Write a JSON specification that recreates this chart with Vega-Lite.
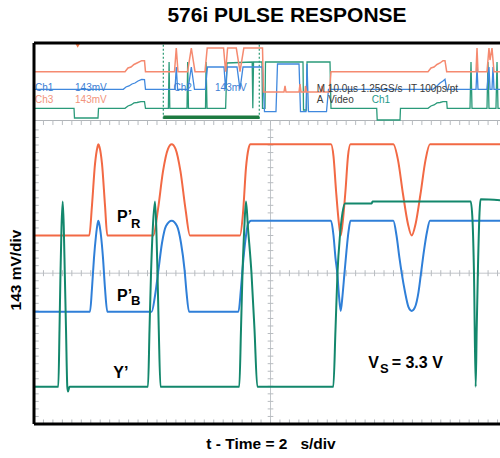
{
  "$schema": "https://vega.github.io/schema/vega-lite/v6.json",
  "width": 466,
  "height": 381,
  "autosize": "none",
  "padding": {"left": 34, "top": 43, "right": 0, "bottom": 34},
  "background": "white",
  "config": {"view": {"stroke": null}, "font": "Liberation Sans"},
  "title": {"text": "576i PULSE RESPONSE", "font": "Liberation Sans", "fontSize": 21, "fontWeight": "bold", "color": "#000000", "anchor": "middle", "frame": "group", "dx": 20, "offset": -1, "baseline": "alphabetic"},
  "datasets": {
    "tx": [{"t":0.2},{"t":0.4},{"t":0.6},{"t":0.8},{"t":1},{"t":1.2},{"t":1.4},{"t":1.6},{"t":1.8},{"t":2},{"t":2.2},{"t":2.4},{"t":2.6},{"t":2.8},{"t":3},{"t":3.2},{"t":3.4},{"t":3.6},{"t":3.8},{"t":4},{"t":4.2},{"t":4.4},{"t":4.6},{"t":4.8},{"t":5},{"t":5.2},{"t":5.4},{"t":5.6},{"t":5.8},{"t":6},{"t":6.2},{"t":6.4},{"t":6.6},{"t":6.8},{"t":7},{"t":7.2},{"t":7.4},{"t":7.6},{"t":7.8},{"t":8},{"t":8.2},{"t":8.4},{"t":8.6},{"t":8.8},{"t":9},{"t":9.2},{"t":9.4},{"t":9.6},{"t":9.8}],
    "ty": [{"v":0.2},{"v":0.4},{"v":0.6},{"v":0.8},{"v":1},{"v":1.2},{"v":1.4},{"v":1.6},{"v":1.8},{"v":2},{"v":2.2},{"v":2.4},{"v":2.6},{"v":2.8},{"v":3},{"v":3.2},{"v":3.4},{"v":3.6},{"v":3.8},{"v":4},{"v":4.2},{"v":4.4},{"v":4.6},{"v":4.8},{"v":5},{"v":5.2},{"v":5.4},{"v":5.6},{"v":5.8},{"v":6},{"v":6.2},{"v":6.4},{"v":6.6},{"v":6.8},{"v":7},{"v":7.2},{"v":7.4},{"v":7.6},{"v":7.8}],
    "mR": [{"t":0,"v":5.0},{"t":1.169,"v":5.0},{"t":1.226,"v":5.8},{"t":1.29,"v":6.9},{"t":1.342,"v":7.35},{"t":1.359,"v":7.42},{"t":1.385,"v":7.35},{"t":1.438,"v":6.9},{"t":1.501,"v":5.8},{"t":1.55,"v":5.0},{"t":2.522,"v":5.0},{"t":2.622,"v":5.7},{"t":2.727,"v":6.7},{"t":2.833,"v":7.3},{"t":2.911,"v":7.42},{"t":2.992,"v":7.3},{"t":3.097,"v":6.7},{"t":3.203,"v":5.7},{"t":3.298,"v":5.0},{"t":4.355,"v":5.0},{"t":4.419,"v":5.6},{"t":4.482,"v":6.8},{"t":4.535,"v":7.3},{"t":4.577,"v":7.42},{"t":6.279,"v":7.42},{"t":6.332,"v":7.1},{"t":6.385,"v":6.2},{"t":6.448,"v":5.3},{"t":6.484,"v":5.0},{"t":6.522,"v":5.3},{"t":6.586,"v":6.2},{"t":6.638,"v":7.1},{"t":6.691,"v":7.42},{"t":7.596,"v":7.42},{"t":7.696,"v":7.0},{"t":7.801,"v":6.1},{"t":7.907,"v":5.3},{"t":7.985,"v":5.0},{"t":8.066,"v":5.3},{"t":8.171,"v":6.1},{"t":8.277,"v":7.0},{"t":8.372,"v":7.42},{"t":9.958,"v":7.42}],
    "mB": [{"t":0,"v":2.98},{"t":1.184,"v":2.98},{"t":1.226,"v":3.6},{"t":1.268,"v":4.4},{"t":1.311,"v":5.0},{"t":1.342,"v":5.3},{"t":1.359,"v":5.39},{"t":1.381,"v":5.3},{"t":1.416,"v":5.0},{"t":1.459,"v":4.4},{"t":1.501,"v":3.6},{"t":1.55,"v":2.98},{"t":2.488,"v":2.98},{"t":2.558,"v":3.4},{"t":2.632,"v":4.1},{"t":2.706,"v":4.8},{"t":2.791,"v":5.25},{"t":2.911,"v":5.39},{"t":3.023,"v":5.25},{"t":3.108,"v":4.8},{"t":3.182,"v":4.1},{"t":3.224,"v":3.5},{"t":3.277,"v":2.98},{"t":4.323,"v":2.98},{"t":4.376,"v":3.6},{"t":4.429,"v":4.4},{"t":4.482,"v":5.0},{"t":4.524,"v":5.3},{"t":4.588,"v":5.39},{"t":6.279,"v":5.39},{"t":6.332,"v":5.0},{"t":6.374,"v":4.4},{"t":6.412,"v":4.0},{"t":6.448,"v":3.4},{"t":6.484,"v":3.0},{"t":6.522,"v":3.4},{"t":6.564,"v":4.0},{"t":6.607,"v":4.6},{"t":6.649,"v":5.1},{"t":6.691,"v":5.39},{"t":7.596,"v":5.39},{"t":7.664,"v":5.0},{"t":7.727,"v":4.4},{"t":7.774,"v":4.0},{"t":7.844,"v":3.5},{"t":7.918,"v":3.1},{"t":7.985,"v":3.0},{"t":8.055,"v":3.1},{"t":8.129,"v":3.5},{"t":8.182,"v":4.0},{"t":8.245,"v":4.6},{"t":8.309,"v":5.1},{"t":8.372,"v":5.39},{"t":9.958,"v":5.39}],
    "mY": [{"t":0,"v":0.99},{"t":0.514,"v":0.99},{"t":0.539,"v":2.5},{"t":0.56,"v":4.0},{"t":0.581,"v":5.2},{"t":0.607,"v":5.9},{"t":0.63,"v":5.2},{"t":0.651,"v":4.0},{"t":0.677,"v":2.5},{"t":0.704,"v":0.99},{"t":0.719,"v":0.86},{"t":0.751,"v":0.99},{"t":2.41,"v":0.99},{"t":2.442,"v":2.5},{"t":2.474,"v":4.0},{"t":2.512,"v":5.2},{"t":2.558,"v":5.9},{"t":2.586,"v":5.2},{"t":2.611,"v":4.0},{"t":2.638,"v":2.5},{"t":2.674,"v":0.99},{"t":4.34,"v":0.99},{"t":4.376,"v":2.5},{"t":4.408,"v":4.0},{"t":4.446,"v":5.2},{"t":4.482,"v":5.9},{"t":4.524,"v":5.2},{"t":4.598,"v":4.0},{"t":4.662,"v":2.5},{"t":4.721,"v":0.99},{"t":6.328,"v":0.99},{"t":6.374,"v":2.5},{"t":6.416,"v":4.0},{"t":6.469,"v":5.0},{"t":6.522,"v":5.6},{"t":6.575,"v":5.85},{"t":7.14,"v":5.85},{"t":7.156,"v":5.9},{"t":9.233,"v":5.9},{"t":9.271,"v":5.4},{"t":9.302,"v":4.0},{"t":9.338,"v":0.99},{"t":9.359,"v":2.5},{"t":9.387,"v":4.2},{"t":9.419,"v":5.6},{"t":9.44,"v":5.96},{"t":9.958,"v":5.92}],
    "oR": [{"t":0,"v":9.345},{"t":1.924,"v":9.345},{"t":1.987,"v":9.443},{"t":2.051,"v":9.469},{"t":2.114,"v":9.536},{"t":2.178,"v":9.576},{"t":2.277,"v":9.637},{"t":2.336,"v":9.637},{"t":2.357,"v":9.345},{"t":2.97,"v":9.345},{"t":3.008,"v":9.973},{"t":3.044,"v":9.345},{"t":3.247,"v":9.345},{"t":3.326,"v":9.973},{"t":3.404,"v":9.345},{"t":3.615,"v":9.345},{"t":3.662,"v":9.973},{"t":4.008,"v":9.973},{"t":4.051,"v":9.345},{"t":4.093,"v":9.973},{"t":4.277,"v":9.973},{"t":4.355,"v":9.345},{"t":4.436,"v":9.973},{"t":4.831,"v":9.973},{"t":4.852,"v":8.806},{"t":5.285,"v":8.806},{"t":5.307,"v":8.966},{"t":5.328,"v":8.806},{"t":5.603,"v":8.806},{"t":5.624,"v":9.019},{"t":5.645,"v":8.806},{"t":5.729,"v":8.806},{"t":5.74,"v":8.966},{"t":5.761,"v":8.806},{"t":6.068,"v":8.806},{"t":6.089,"v":8.966},{"t":6.11,"v":8.806},{"t":6.247,"v":8.806},{"t":6.279,"v":9.345},{"t":8.33,"v":9.345},{"t":8.393,"v":9.443},{"t":8.457,"v":9.469},{"t":8.52,"v":9.536},{"t":8.584,"v":9.576},{"t":8.647,"v":9.637},{"t":8.689,"v":9.637},{"t":8.725,"v":9.345},{"t":9.345,"v":9.345},{"t":9.366,"v":9.973},{"t":9.387,"v":9.345},{"t":9.577,"v":9.345},{"t":9.619,"v":9.973},{"t":9.641,"v":9.655},{"t":9.683,"v":9.973},{"t":9.725,"v":9.345},{"t":9.958,"v":9.345}],
    "oB": [{"t":0,"v":8.878},{"t":1.888,"v":8.878},{"t":1.945,"v":8.939},{"t":2.008,"v":8.966},{"t":2.072,"v":9.019},{"t":2.135,"v":9.045},{"t":2.199,"v":9.098},{"t":2.277,"v":9.143},{"t":2.336,"v":9.138},{"t":2.357,"v":8.878},{"t":2.981,"v":8.878},{"t":3.008,"v":9.469},{"t":3.036,"v":8.878},{"t":3.256,"v":8.878},{"t":3.326,"v":9.469},{"t":3.393,"v":8.878},{"t":3.622,"v":8.878},{"t":3.668,"v":9.469},{"t":4.017,"v":9.469},{"t":4.051,"v":8.878},{"t":4.085,"v":9.469},{"t":4.292,"v":9.469},{"t":4.355,"v":8.878},{"t":4.419,"v":9.469},{"t":4.831,"v":9.469},{"t":4.873,"v":8.284},{"t":5.116,"v":8.284},{"t":5.148,"v":9.549},{"t":5.603,"v":9.549},{"t":5.634,"v":8.284},{"t":5.751,"v":8.284},{"t":5.772,"v":9.549},{"t":5.803,"v":8.284},{"t":6.184,"v":8.284},{"t":6.226,"v":8.878},{"t":8.436,"v":8.878},{"t":8.52,"v":8.966},{"t":8.584,"v":9.045},{"t":8.647,"v":9.098},{"t":8.689,"v":9.143},{"t":8.725,"v":8.878},{"t":9.345,"v":8.878},{"t":9.366,"v":9.469},{"t":9.387,"v":8.878},{"t":9.577,"v":8.878},{"t":9.619,"v":9.469},{"t":9.641,"v":8.878},{"t":9.683,"v":8.878},{"t":9.704,"v":9.469},{"t":9.725,"v":8.878},{"t":9.958,"v":8.878}],
    "oY": [{"t":0,"v":8.374},{"t":0.846,"v":8.374},{"t":0.856,"v":8.117},{"t":1.353,"v":8.117},{"t":1.364,"v":8.374},{"t":1.924,"v":8.374},{"t":1.987,"v":8.435},{"t":2.051,"v":8.462},{"t":2.114,"v":8.515},{"t":2.178,"v":8.528},{"t":2.262,"v":8.549},{"t":2.336,"v":8.549},{"t":2.357,"v":8.374},{"t":2.841,"v":8.374},{"t":2.856,"v":9.602},{"t":2.871,"v":8.374},{"t":3.235,"v":8.374},{"t":3.249,"v":9.602},{"t":3.266,"v":8.374},{"t":3.626,"v":8.374},{"t":3.638,"v":9.602},{"t":3.658,"v":8.374},{"t":4.051,"v":8.374},{"t":4.08,"v":9.576},{"t":4.613,"v":9.602},{"t":4.626,"v":8.374},{"t":4.641,"v":9.602},{"t":4.82,"v":9.602},{"t":4.831,"v":8.374},{"t":4.884,"v":8.374},{"t":4.894,"v":9.602},{"t":5.687,"v":9.602},{"t":5.698,"v":8.329},{"t":5.761,"v":8.329},{"t":5.772,"v":9.602},{"t":6.258,"v":9.602},{"t":6.279,"v":8.374},{"t":7.245,"v":8.374},{"t":7.256,"v":8.064},{"t":7.738,"v":8.064},{"t":7.748,"v":8.374},{"t":8.33,"v":8.374},{"t":8.393,"v":8.435},{"t":8.457,"v":8.462},{"t":8.52,"v":8.515},{"t":8.584,"v":8.528},{"t":8.647,"v":8.549},{"t":8.725,"v":8.549},{"t":8.736,"v":8.374},{"t":9.218,"v":8.374},{"t":9.239,"v":9.602},{"t":9.26,"v":8.374},{"t":9.577,"v":8.374},{"t":9.598,"v":9.602},{"t":9.619,"v":8.374},{"t":9.767,"v":8.374},{"t":9.789,"v":9.602},{"t":9.81,"v":8.374},{"t":9.958,"v":8.374}],
    "otext": [{"t":0.02,"v":8.841,"s":"Ch1","ch":"ch1"},{"t":0.867,"v":8.841,"s":"143mV","ch":"ch1"},{"t":2.948,"v":8.841,"s":"Ch2","ch":"ch1"},{"t":3.827,"v":8.841,"s":"143mV","ch":"ch1"},{"t":0.02,"v":8.515,"s":"Ch3","ch":"ch3"},{"t":0.867,"v":8.515,"s":"143mV","ch":"ch3"},{"t":5.977,"v":8.806,"s":"M 10.0µs 1.25GS/s","ch":"hor"},{"t":7.91,"v":8.806,"s":"IT 100ps/pt","ch":"hor"},{"t":5.977,"v":8.515,"s":"A","ch":"hor"},{"t":6.222,"v":8.515,"s":"Video","ch":"hor"},{"t":7.14,"v":8.515,"s":"Ch1","ch":"trig"}],
    "big": [{"t":1.755,"v":5.366,"s":"P’"},{"t":1.755,"v":3.271,"s":"P’"},{"t":1.677,"v":1.212,"s":"Y’"},{"t":7.068,"v":1.477,"s":"V"},{"t":7.562,"v":1.477,"s":"= 3.3 V"}],
    "sub": [{"t":2.05,"v":5.191,"s":"R"},{"t":2.05,"v":3.156,"s":"B"},{"t":7.315,"v":1.345,"s":"S"}],
    "xtitle": [{"t":5.011,"v":-0.663,"s":"t - Time = 2\u00a0\u00a0\u00a0s/div"}],
    "ytitle": [{"t":-0.381,"v":4.085,"s":"143 mV/div"}],
    "zoomwin": [{"t":2.734},{"t":4.763}]
  },
  "layer": [
    {
      "data": {"name": "mB"},
      "mark": {"type": "line", "color": "#2f7fd8", "strokeWidth": 2, "clip": true, "opacity": 0},
      "encoding": {
        "x": {"field": "t", "type": "quantitative",
          "scale": {"domain": [0, 9.852], "nice": false, "zero": false},
          "axis": {"values": [1,2,3,4,5,6,7,8,9], "grid": true, "gridDash": [1,3], "gridColor": "#b4bcc4", "gridWidth": 1, "labels": false, "ticks": false, "domain": false, "title": null}},
        "y": {"field": "v", "type": "quantitative",
          "scale": {"domain": [0, 10.106], "nice": false, "zero": false},
          "axis": {"values": [1,2,3,5,6,7,9.12], "grid": true, "gridDash": [1,3], "gridColor": "#b4bcc4", "gridWidth": 1, "labels": false, "ticks": false, "domain": false, "title": null}}
      }
    },
    {
      "data": {"values": [{}]},
      "mark": {"type": "rule", "color": "#c2c6ca", "strokeWidth": 1},
      "encoding": {"x": {"datum": 5, "type": "quantitative", "axis": null}, "y": {"datum": 0, "type": "quantitative", "axis": null}, "y2": {"datum": 8}}
    },
    {
      "data": {"values": [{}]},
      "mark": {"type": "rule", "color": "#c2c6ca", "strokeWidth": 1},
      "encoding": {"y": {"datum": 4, "type": "quantitative", "axis": null}}
    },
    {
      "data": {"values": [{}]},
      "mark": {"type": "rule", "color": "#b0b4b8", "strokeWidth": 1},
      "encoding": {"y": {"datum": 8.05, "type": "quantitative", "axis": null}}
    },
    {
      "data": {"name": "tx"},
      "mark": {"type": "rule", "color": "#b8bcc0", "strokeWidth": 1},
      "encoding": {"x": {"field": "t", "type": "quantitative", "axis": null}, "y": {"datum": 3.92, "type": "quantitative", "axis": null}, "y2": {"datum": 4.08}}
    },
    {
      "data": {"name": "ty"},
      "mark": {"type": "rule", "color": "#b8bcc0", "strokeWidth": 1},
      "encoding": {"y": {"field": "v", "type": "quantitative", "axis": null}, "x": {"datum": 4.94, "type": "quantitative", "axis": null}, "x2": {"datum": 5.06}}
    },
    {
      "data": {"name": "tx"},
      "mark": {"type": "rule", "color": "#b8bcc0", "strokeWidth": 1},
      "encoding": {"x": {"field": "t", "type": "quantitative", "axis": null}, "y": {"datum": 0, "type": "quantitative", "axis": null}, "y2": {"datum": 0.12}}
    },
    {
      "data": {"name": "tx"},
      "mark": {"type": "rule", "color": "#b8bcc0", "strokeWidth": 1},
      "encoding": {"x": {"field": "t", "type": "quantitative", "axis": null}, "y": {"datum": 7.93, "type": "quantitative", "axis": null}, "y2": {"datum": 8.05}}
    },
    {
      "data": {"name": "ty"},
      "mark": {"type": "rule", "color": "#b8bcc0", "strokeWidth": 1},
      "encoding": {"y": {"field": "v", "type": "quantitative", "axis": null}, "x": {"datum": 0, "type": "quantitative", "axis": null}, "x2": {"datum": 0.1}}
    },
    {
      "data": {"name": "zoomwin"},
      "mark": {"type": "rule", "color": "#2a9a72", "strokeWidth": 1.2, "strokeDash": [2,2]},
      "encoding": {"x": {"field": "t", "type": "quantitative", "axis": null}, "y": {"datum": 8.1, "type": "quantitative", "axis": null}, "y2": {"datum": 10.106}}
    },
    {
      "data": {"name": "oY"},
      "mark": {"type": "line", "color": "#2a9a7a", "strokeWidth": 1.3, "clip": true},
      "encoding": {"x": {"field": "t", "type": "quantitative", "axis": null}, "y": {"field": "v", "type": "quantitative", "axis": null}}
    },
    {
      "data": {"name": "oB"},
      "mark": {"type": "line", "color": "#3f88de", "strokeWidth": 1.3, "clip": true},
      "encoding": {"x": {"field": "t", "type": "quantitative", "axis": null}, "y": {"field": "v", "type": "quantitative", "axis": null}}
    },
    {
      "data": {"name": "oR"},
      "mark": {"type": "line", "color": "#f58a70", "strokeWidth": 1.5, "clip": true},
      "encoding": {"x": {"field": "t", "type": "quantitative", "axis": null}, "y": {"field": "v", "type": "quantitative", "axis": null}}
    },
    {
      "data": {"values": [{}]},
      "mark": {"type": "rule", "color": "#1d7a40", "strokeWidth": 3.5},
      "encoding": {"x": {"datum": 2.734, "type": "quantitative", "axis": null}, "x2": {"datum": 4.763}, "y": {"datum": 8.135, "type": "quantitative", "axis": null}}
    },
    {
      "data": {"values": [{}]},
      "mark": {"type": "point", "shape": "triangle-down", "filled": true, "color": "#f07a4a", "size": 30, "opacity": 1},
      "encoding": {"x": {"datum": 0.924, "type": "quantitative", "axis": null}, "y": {"datum": 10.04, "type": "quantitative", "axis": null}}
    },
    {
      "data": {"name": "otext"},
      "mark": {"type": "text", "align": "left", "baseline": "alphabetic", "font": "Liberation Sans", "fontSize": 10},
      "encoding": {
        "x": {"field": "t", "type": "quantitative", "axis": null},
        "y": {"field": "v", "type": "quantitative", "axis": null},
        "text": {"field": "s"},
        "color": {"field": "ch", "type": "nominal", "legend": null, "scale": {"domain": ["ch1","ch3","hor","trig"], "range": ["#3d80d4","#f2937c","#3a3a3a","#1f9a8a"]}}
      }
    },
    {
      "data": {"name": "mB"},
      "mark": {"type": "line", "color": "#2f7fd8", "strokeWidth": 2, "interpolate": "monotone", "clip": true},
      "encoding": {"x": {"field": "t", "type": "quantitative", "axis": null}, "y": {"field": "v", "type": "quantitative", "axis": null}}
    },
    {
      "data": {"name": "mR"},
      "mark": {"type": "line", "color": "#f26944", "strokeWidth": 2, "interpolate": "monotone", "clip": true},
      "encoding": {"x": {"field": "t", "type": "quantitative", "axis": null}, "y": {"field": "v", "type": "quantitative", "axis": null}}
    },
    {
      "data": {"name": "mY"},
      "mark": {"type": "line", "color": "#13876c", "strokeWidth": 2, "interpolate": "monotone", "clip": true},
      "encoding": {"x": {"field": "t", "type": "quantitative", "axis": null}, "y": {"field": "v", "type": "quantitative", "axis": null}}
    },
    {
      "data": {"name": "big"},
      "mark": {"type": "text", "align": "left", "baseline": "alphabetic", "font": "Liberation Sans", "fontSize": 16, "fontWeight": "bold", "color": "#000000"},
      "encoding": {"x": {"field": "t", "type": "quantitative", "axis": null}, "y": {"field": "v", "type": "quantitative", "axis": null}, "text": {"field": "s"}}
    },
    {
      "data": {"name": "sub"},
      "mark": {"type": "text", "align": "left", "baseline": "alphabetic", "font": "Liberation Sans", "fontSize": 13, "fontWeight": "bold", "color": "#000000"},
      "encoding": {"x": {"field": "t", "type": "quantitative", "axis": null}, "y": {"field": "v", "type": "quantitative", "axis": null}, "text": {"field": "s"}}
    },
    {
      "data": {"name": "xtitle"},
      "mark": {"type": "text", "align": "center", "baseline": "alphabetic", "font": "Liberation Sans", "fontSize": 15.5, "fontWeight": "bold", "color": "#000000"},
      "encoding": {"x": {"field": "t", "type": "quantitative", "axis": null}, "y": {"field": "v", "type": "quantitative", "axis": null}, "text": {"field": "s"}}
    },
    {
      "data": {"name": "ytitle"},
      "mark": {"type": "text", "align": "center", "baseline": "middle", "angle": 270, "font": "Liberation Sans", "fontSize": 15.5, "fontWeight": "bold", "color": "#000000"},
      "encoding": {"x": {"field": "t", "type": "quantitative", "axis": null}, "y": {"field": "v", "type": "quantitative", "axis": null}, "text": {"field": "s"}}
    },
    {
      "data": {"values": [{}]},
      "mark": {"type": "rule", "color": "#000000", "strokeWidth": 3},
      "encoding": {"x": {"datum": 0, "type": "quantitative", "axis": null}}
    },
    {
      "data": {"values": [{}]},
      "mark": {"type": "rule", "color": "#000000", "strokeWidth": 3},
      "encoding": {"y": {"datum": 0, "type": "quantitative", "axis": null}}
    },
    {
      "data": {"values": [{}]},
      "mark": {"type": "rule", "color": "#000000", "strokeWidth": 3},
      "encoding": {"y": {"datum": 10.106, "type": "quantitative", "axis": null}}
    }
  ]
}
